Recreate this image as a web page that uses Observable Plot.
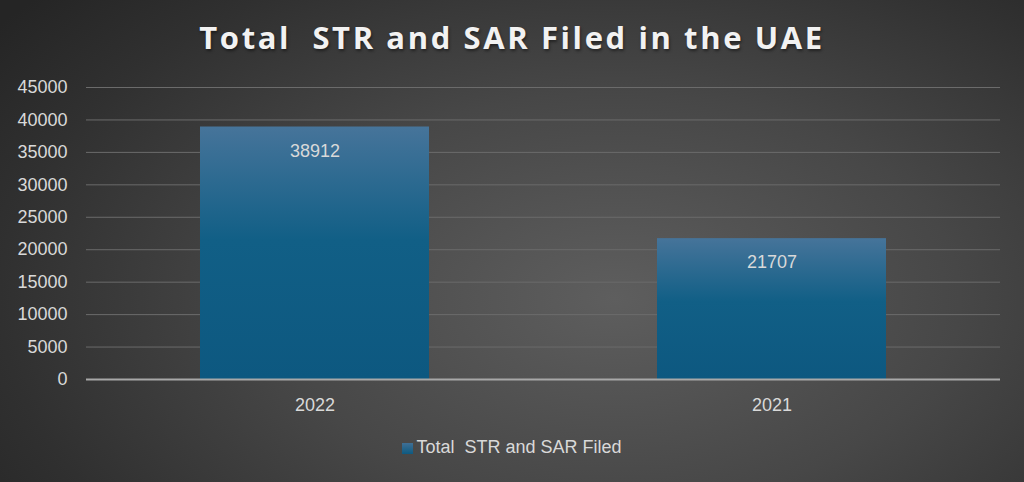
<!DOCTYPE html>
<html><head><meta charset="utf-8">
<script src="https://cdn.jsdelivr.net/npm/d3@7"></script>
<script src="https://cdn.jsdelivr.net/npm/@observablehq/plot@0.6"></script>
<style>
body{margin:0;}
#wrap{position:relative;width:1024px;height:482px;overflow:hidden;
background:radial-gradient(ellipse 75% 95% at 60% 62%, #5e5e5e 0%, #474747 45%, #303030 80%, #252525 100%);
font-family:"Liberation Sans",Arial,sans-serif;}
#title{position:absolute;top:16px;left:0;width:1024px;text-align:center;color:#f2f2f2;
font-family:"Open Sans","DejaVu Sans",sans-serif;font-weight:700;font-size:31px;letter-spacing:2.6px;white-space:pre;
text-shadow:1px 2px 3px rgba(0,0,0,0.45);}
#chart{position:absolute;top:70px;left:0;}
#legend{position:absolute;top:437px;left:0;width:1024px;text-align:center;color:#d9d9d9;font-size:18px;white-space:pre;}
#legend .sw{display:inline-block;width:11px;height:11px;background:linear-gradient(#3f6f95,#0e5a80);margin-right:3px;vertical-align:-1px;}
</style></head>
<body>
<div id="wrap">
<div id="title">Total  STR and SAR Filed in the UAE</div>
<div id="chart"></div>
<div id="legend"><span class="sw"></span>Total  STR and SAR Filed</div>
</div>
<script>
const years = ["2022", "2021"];
const values = [38912, 21707];
const yTicks = [0, 5000, 10000, 15000, 20000, 25000, 30000, 35000, 40000, 45000];
const seriesName = "Total  STR and SAR Filed";

const data = years.map((y, i) => ({year: y, value: values[i]}));

const plot = Plot.plot({
  width: 1024,
  height: 350,
  marginTop: 17,
  marginBottom: 41,
  marginLeft: 86,
  marginRight: 24,
  style: {background: "transparent", color: "#d9d9d9", fontSize: "18px", fontFamily: "'Liberation Sans', Arial, sans-serif"},
  x: {domain: years, paddingInner: 0.5, paddingOuter: 0.25, label: null},
  y: {domain: [0, 45000], ticks: yTicks, label: null},
  marks: [
    Plot.gridY(yTicks.filter(t => t > 0), {stroke: "#6b6b6b", strokeOpacity: 1, strokeWidth: 1}),
    Plot.barY(data, {x: "year", y: "value", fill: "url(#barGrad)"}),
    Plot.ruleY([0], {stroke: "#a8a8a8", strokeWidth: 2}),
    Plot.axisY({ticks: yTicks, tickSize: 0, tickPadding: 19, tickFormat: d => String(d), fill: "#d9d9d9", fontSize: 18}),
    Plot.axisX({tickSize: 0, tickPadding: 19, fill: "#d9d9d9", fontSize: 18}),
    Plot.text(data, {x: "year", y: "value", text: d => String(d.value), dy: 24, fill: "#d9d9d9", fontSize: 18})
  ]
});

const svg = d3.select(plot);
const defs = svg.insert("defs", ":first-child");
const g = defs.append("linearGradient").attr("id", "barGrad").attr("x1", 0).attr("y1", 0).attr("x2", 0).attr("y2", 1);
g.append("stop").attr("offset", "0%").attr("stop-color", "#46749a");
g.append("stop").attr("offset", "45%").attr("stop-color", "#115f86");
g.append("stop").attr("offset", "100%").attr("stop-color", "#0d5880");

document.getElementById("chart").appendChild(plot);
</script>
</body></html>
